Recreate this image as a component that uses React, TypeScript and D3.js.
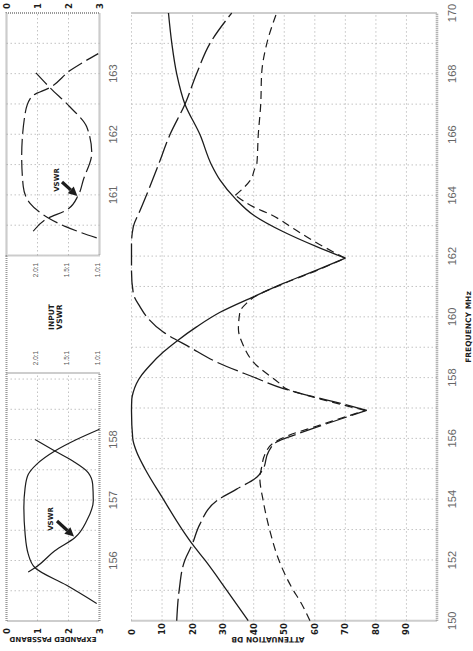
import React from 'react';
import * as d3 from 'd3';

const W = 473;
const H = 651;

// ---- main chart data: [frequency MHz, attenuation dB]
const freqTicks = [150, 152, 154, 156, 158, 160, 162, 164, 166, 168, 170];
const attenTicks = [0, 10, 20, 30, 40, 50, 60, 70, 80, 90];

const solidCurve: [number, number][] = [
  [150, 38.2], [151, 31.2], [152, 24], [152.47, 20.3], [153, 16.6], [154, 10.4], [155, 4.4],
  [155.55, 1.7], [156, 0.4], [156.9, 0], [157.3, 0.1], [157.53, 0.6], [157.8, 1.6], [158.08, 3.3],
  [158.4, 6], [158.84, 10.4], [159.2, 14.8], [159.67, 21.3], [160.15, 29], [160.66, 39.9],
  [161.1, 49.7], [161.54, 60.6], [161.93, 70], [162.31, 60.6], [162.8, 49.7], [163.35, 39.9],
  [163.9, 33.9], [164.5, 29], [165, 26.2], [166, 22.4], [167, 17.5], [168, 14.8], [169, 13.2], [170, 12.1],
];
const solidBreaks = [161.93];

const longDashCurve: [number, number][] = [
  [150, 14.8], [151, 15.6], [152, 17.5], [152.47, 19.7], [153.18, 22.4], [153.95, 27.9],
  [154.33, 34.4], [154.72, 41], [155, 43.1], [155.55, 44.8], [155.88, 47.5], [156.1, 53],
  [156.37, 60.6], [156.92, 77], [157.2, 66.5], [157.36, 60], [157.64, 49.7], [158.02, 39.9],
  [158.51, 27.9], [159, 19.1], [159.5, 10.4], [160, 5], [160.33, 2.8], [160.77, 0.6], [161.5, 0],
  [162.4, 0], [162.97, 0.6], [163.5, 2.8], [164.28, 6], [165, 8.8], [166, 12.6], [167, 17.5],
  [168, 21.3], [169, 25.7], [170, 32.8],
];
const longDashBreaks = [156.92];

const shortDashCurve: [number, number][] = [
  [150, 58.4], [150.55, 55.7], [151.1, 52.4], [152.03, 48.1], [152.96, 45.3], [153.95, 43.1],
  [154.72, 42], [155, 42.5], [155.5, 43.8], [155.85, 46.5], [156.1, 51.5], [156.4, 60.5],
  [156.92, 76.5], [157.36, 59.5], [157.64, 50.5], [157.8, 48.6], [158.51, 39.9], [159.06, 36.6],
  [159.6, 35], [160.16, 35.5], [160.45, 37.7], [160.66, 40.3], [161.1, 50], [161.54, 61],
  [161.93, 70], [162.53, 59], [162.91, 53], [163.35, 45.9], [163.62, 39.9], [164.0, 34],
  [164.56, 39.3], [164.89, 40.4], [165, 41], [166, 41.5], [167, 42.3], [168, 42.6], [169, 44.3], [170, 47.5],
];
const shortDashBreaks = [156.92, 161.93, 164.0];

// ---- expanded passband insets: [frequency MHz, dB]
const passbandTicks = [0, 1, 2, 3];
const inset1Ticks = [156, 157, 158];
const inset2Ticks = [161, 162, 163];
const vswrLabels = ['2.0:1', '1.5:1', '1.0:1'];
const vswrLabelPos = [1, 2, 3];

const inset1Passband: [number, number][] = [
  [155.29, 2.91], [155.59, 1.94], [155.88, 0.92], [156.11, 0.7], [156.44, 0.6], [156.88, 0.56],
  [157.2, 0.6], [157.42, 0.7], [157.59, 0.97], [157.81, 1.56], [158.0, 2.26], [158.17, 3.0],
];
const inset1Vswr: [number, number][] = [
  [155.81, 0.7], [155.88, 0.92], [156.16, 1.56], [156.38, 2.21], [156.66, 2.59], [156.99, 2.8],
  [157.26, 2.78], [157.45, 2.64], [157.64, 2.15], [157.81, 1.56], [158.0, 0.92],
];
const inset2Passband: [number, number][] = [
  [160.29, 2.91], [160.48, 1.89], [160.62, 1.35], [160.86, 0.76], [161.14, 0.54], [161.63, 0.49],
  [162.34, 0.6], [162.62, 0.81], [162.77, 1.4], [163.05, 2.05], [163.33, 2.96],
];
const inset2Vswr: [number, number][] = [
  [160.4, 0.86], [160.62, 1.35], [160.75, 1.94], [161.0, 2.32], [161.25, 2.48], [161.69, 2.75],
  [162.12, 2.59], [162.45, 2.05], [162.77, 1.4], [163.03, 0.92],
];

function splitAt(data: [number, number][], breaks: number[]) {
  const segs: [number, number][][] = [];
  let cur: [number, number][] = [];
  data.forEach((p) => {
    cur.push(p);
    if (breaks.includes(p[0]) && cur.length > 1) {
      segs.push(cur);
      cur = [p];
    }
  });
  if (cur.length > 1) segs.push(cur);
  return segs;
}

const BOLD = "'DejaVu Sans', sans-serif";
const LIGHT = "'Liberation Sans', sans-serif";
const GRID = '#b4b4b4';
const BORDER = '#9a9a9a';
const INK = '#1c1c1c';

function Arrow({ x1, y1, x2, y2 }: { x1: number; y1: number; x2: number; y2: number }) {
  const dx = x2 - x1, dy = y2 - y1;
  const len = Math.hypot(dx, dy);
  const ux = dx / len, uy = dy / len;
  const px = -uy, py = ux;
  const hl = 9, hw = 4.5;
  const bx = x2 - ux * hl, by = y2 - uy * hl;
  const pts = [
    [x2, y2], [bx + px * hw, by + py * hw], [bx - px * hw, by - py * hw],
  ].map((p) => p.join(',')).join(' ');
  return (
    <g>
      <line x1={x1} y1={y1} x2={bx} y2={by} stroke={INK} strokeWidth={3.2} />
      <polygon points={pts} fill={INK} />
    </g>
  );
}

export default function App() {
  // frame coordinates: u = along frequency (page bottom -> top), v = attenuation (page left -> right)
  const fx = d3.scaleLinear().domain([150, 170]).range([30.3, 638]);
  const ay = d3.scaleLinear().domain([0, 100]).range([131.5, 437]);
  const i1x = d3.scaleLinear().domain([155, 159.1]).range([30, 278]);
  const i2x = d3.scaleLinear().domain([160, 164]).range([395.5, 638]);
  const iy = d3.scaleLinear().domain([0, 3]).range([6.5, 99.5]);

  const mainLine = d3.line<[number, number]>().x((d) => fx(d[0])).y((d) => ay(d[1])).curve(d3.curveMonotoneX);
  const i1Line = d3.line<[number, number]>().x((d) => i1x(d[0])).y((d) => iy(d[1])).curve(d3.curveMonotoneX);
  const i2Line = d3.line<[number, number]>().x((d) => i2x(d[0])).y((d) => iy(d[1])).curve(d3.curveMonotoneX);

  const mainGridF = d3.range(151, 170, 1);
  const mainGridA = d3.range(0, 100, 10);
  const i1GridF = d3.range(155.5, 159.01, 0.5);
  const i2GridF = d3.range(160.5, 163.51, 0.5);
  const iGridA = [1, 2];

  const curves = [
    { data: solidCurve, breaks: solidBreaks, dash: undefined as string | undefined, w: 1.3 },
    { data: longDashCurve, breaks: longDashBreaks, dash: '22,5', w: 1.3 },
    { data: shortDashCurve, breaks: shortDashBreaks, dash: '8,5', w: 1.2 },
  ];

  return (
    <svg
      width={W}
      height={H}
      style={{ position: 'absolute', left: 0, top: 0, background: '#fff' }}
    >
      <rect x={0} y={0} width={W} height={H} fill="#fff" />
      <g transform={`translate(0,${H}) rotate(-90)`}>
        {/* main grid */}
        {mainGridF.map((f) => (
          <line key={'gf' + f} x1={fx(f)} x2={fx(f)} y1={ay(0)} y2={ay(100)} stroke={GRID} strokeWidth={0.8} strokeDasharray="1.5,2.5" />
        ))}
        {mainGridA.map((a) => (
          <line key={'ga' + a} x1={fx(150)} x2={fx(170)} y1={ay(a)} y2={ay(a)} stroke={GRID} strokeWidth={0.8} strokeDasharray="1.5,2.5" />
        ))}
        {/* main borders */}
        <line x1={fx(150)} x2={fx(150)} y1={ay(0)} y2={ay(100)} stroke={BORDER} strokeWidth={2} strokeDasharray="1,1" />
        <line x1={fx(170)} x2={fx(170)} y1={ay(0)} y2={ay(100)} stroke={BORDER} strokeWidth={2} strokeDasharray="1,1" />
        <line x1={fx(150)} x2={fx(170)} y1={ay(100)} y2={ay(100)} stroke={BORDER} strokeWidth={2.6} strokeDasharray="1,1" />

        {/* main curves */}
        {curves.map((c, i) =>
          splitAt(c.data, c.breaks).map((seg, j) => (
            <path key={`c${i}-${j}`} d={mainLine(seg) || ''} fill="none" stroke={INK} strokeWidth={c.w} strokeDasharray={c.dash} />
          ))
        )}

        {/* main axis labels */}
        {attenTicks.map((a) => (
          <text key={'at' + a} x={16} y={ay(a) + 3} fontFamily={BOLD} fontWeight="bold" fontSize={8.5} fill={INK}>{a}</text>
        ))}
        {freqTicks.map((f) => (
          <text key={'ft' + f} x={fx(f)} y={456} textAnchor="middle" fontFamily={LIGHT} fontSize={11} fill="#666">{f}</text>
        ))}
        <text x={324} y={471} textAnchor="middle" fontFamily={BOLD} fontWeight="bold" fontSize={7.5} fill={INK}>FREQUENCY MHz</text>
        <text transform={`translate(14.5,${268}) rotate(-90)`} textAnchor="middle" fontFamily={BOLD} fontWeight="bold" fontSize={7.5} fill={INK}>ATTENUATION DB</text>

        {/* inset frames */}
        <line x1={i1x(159.1)} x2={i2x(160)} y1={iy(0)} y2={iy(0)} stroke={BORDER} strokeWidth={2} strokeDasharray="1,1" />
        {[{ s: i1x, a: 155, b: 159.1, g: i1GridF }, { s: i2x, a: 160, b: 164, g: i2GridF }].map((ins, k) => (
          <g key={'ins' + k}>
            {ins.g.filter((f) => f < ins.b - 0.01).map((f) => (
              <line key={'ig' + f} x1={ins.s(f)} x2={ins.s(f)} y1={iy(0)} y2={iy(3)} stroke={GRID} strokeWidth={0.8} strokeDasharray="1.5,2.5" />
            ))}
            {iGridA.map((a) => (
              <line key={'iga' + a} x1={ins.s(ins.a)} x2={ins.s(ins.b)} y1={iy(a)} y2={iy(a)} stroke={GRID} strokeWidth={0.8} strokeDasharray="1.5,2.5" />
            ))}
            <rect x={ins.s(ins.a)} y={iy(0)} width={ins.s(ins.b) - ins.s(ins.a)} height={iy(3) - iy(0)} fill="none" stroke={BORDER} strokeWidth={2.2} strokeDasharray="1,1" />
          </g>
        ))}

        {/* inset curves */}
        <path d={i1Line(inset1Passband) || ''} fill="none" stroke={INK} strokeWidth={1.2} />
        <path d={i1Line(inset1Vswr) || ''} fill="none" stroke={INK} strokeWidth={1.2} />
        <path d={i2Line(inset2Passband) || ''} fill="none" stroke={INK} strokeWidth={1.2} strokeDasharray="16,5" />
        <path d={i2Line(inset2Vswr) || ''} fill="none" stroke={INK} strokeWidth={1.2} strokeDasharray="16,5" />

        {/* VSWR callouts */}
        <text x={132} y={53} textAnchor="middle" fontFamily={BOLD} fontWeight="bold" fontSize={7} fill={INK}>VSWR</text>
        <Arrow x1={130} y1={57} x2={i1x(156.38) + 1} y2={iy(2.21) - 1} />
        <text x={471} y={59} textAnchor="middle" fontFamily={BOLD} fontWeight="bold" fontSize={7} fill={INK}>VSWR</text>
        <Arrow x1={469} y1={62} x2={i2x(161.0) - 1} y2={iy(2.32) - 1} />

        {/* inset axis labels */}
        {passbandTicks.map((t) => (
          <text key={'pb' + t} x={17} y={iy(t) + 3} fontFamily={BOLD} fontWeight="bold" fontSize={8.5} fill={INK}>{t}</text>
        ))}
        {passbandTicks.map((t) => (
          <text key={'pt' + t} x={642} y={iy(t) + 3} fontFamily={BOLD} fontWeight="bold" fontSize={8.5} fill={INK}>{t}</text>
        ))}
        {inset1Ticks.map((f) => (
          <text key={'i1' + f} x={i1x(f)} y={117} textAnchor="middle" fontFamily={LIGHT} fontSize={11} fill="#666">{f}</text>
        ))}
        {inset2Ticks.map((f) => (
          <text key={'i2' + f} x={i2x(f)} y={117} textAnchor="middle" fontFamily={LIGHT} fontSize={11} fill="#666">{f}</text>
        ))}
        <text transform={`translate(14.5,${53}) rotate(-90)`} textAnchor="middle" fontFamily={BOLD} fontWeight="bold" fontSize={7} fill={INK}>EXPANDED PASSBAND</text>

        {/* VSWR scale labels */}
        {vswrLabels.map((l, k) => (
          <text key={'v1' + l} x={293} y={iy(vswrLabelPos[k]) + 0.5} textAnchor="middle" fontFamily={LIGHT} fontSize={6.5} fill="#555">{l}</text>
        ))}
        {vswrLabels.map((l, k) => (
          <text key={'v2' + l} x={381} y={iy(vswrLabelPos[k]) + 0.5} textAnchor="middle" fontFamily={LIGHT} fontSize={6.5} fill="#555">{l}</text>
        ))}
        <text x={334} y={54} textAnchor="middle" fontFamily={BOLD} fontWeight="bold" fontSize={7.5} fill={INK}>INPUT</text>
        <text x={334} y={62} textAnchor="middle" fontFamily={BOLD} fontWeight="bold" fontSize={7.5} fill={INK}>VSWR</text>
      </g>
    </svg>
  );
}
